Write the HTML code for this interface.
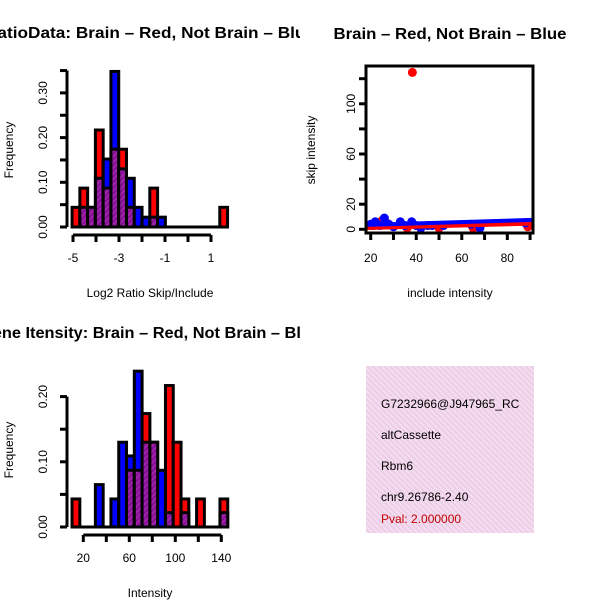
<!DOCTYPE html>
<html><head><meta charset="utf-8"><style>
body{margin:0;background:#fff}
svg{display:block;font-family:"Liberation Sans",sans-serif}
</style></head><body>
<svg id="c" width="600" height="600" viewBox="0 0 600 600">
<defs>
<pattern id="hatch" width="4" height="4" patternUnits="userSpaceOnUse" patternTransform="rotate(45)">
<rect width="4" height="4" fill="#a020a8"/><rect width="1.5" height="4" fill="#7a1090"/></pattern>
<pattern id="pinkh" width="4" height="4" patternUnits="userSpaceOnUse" patternTransform="rotate(-45)">
<rect width="4" height="4" fill="#f8d8f4"/><rect width="1.3" height="4" fill="#e0d0d8"/></pattern>
<clipPath id="panelL"><rect x="0" y="0" width="300" height="600"/></clipPath>
</defs>
<g id="g1"></g><g id="g2"></g><g id="g3"></g>
<g>
<rect x="366" y="366" width="168" height="167" fill="url(#pinkh)"/>
<svg x="366" y="366" width="168" height="167">
<text x="15" y="42" font-size="12">G7232966@J947965_RC</text>
<text x="15" y="73" font-size="12">altCassette</text>
<text x="15" y="104" font-size="12">Rbm6</text>
<text x="15" y="135" font-size="12">chr9.26786-2.40</text>
<text x="15" y="157" font-size="12" fill="#c00000">Pval: 2.000000</text>
</svg></g>
</svg>
<script>
const NS="http://www.w3.org/2000/svg";
// Histogram 1: log2 ratio
const h1Red=[0.044,0.087,0.044,0.217,0.087,0.174,0.174,0.044,0,0,0.087,0,0,0,0,0,0,0,0,0.044];
const h1Blue=[0,0.044,0.044,0.109,0.152,0.348,0.13,0.109,0.044,0.022,0.022,0.022,0,0,0,0,0,0,0,0];
const h1Ticks=[-5,-4,-3,-2,-1,0,1];
const h1Labels=[-5,-3,-1,1];
const h1YTicks=[0,0.05,0.10,0.15,0.20,0.25,0.30,0.35];
const h1YLabels=["0.00","0.10","0.20","0.30"];
// Histogram 2: intensity
const h2Red=[0.043,0,0,0,0,0,0,0.087,0.087,0.174,0.13,0,0.217,0.13,0.043,0,0.043,0,0,0.043];
const h2Blue=[0,0,0,0.065,0,0.043,0.13,0.109,0.239,0.13,0.13,0.087,0.022,0,0.022,0,0,0,0,0.022];
const h2Ticks=[20,40,60,80,100,120,140];
const h2Labels=[20,60,100,140];
const h2YTicks=[0,0.05,0.10,0.15,0.20];
const h2YLabels=["0.00","0.10","0.20"];
// Scatter
const redX=[21,25,27,36,38.3,42,50,65,89];
const redY=[3,7,5,1,125,1,1,1,2];
const blueX=[20,22,24,26,28,30,33,35,38,40,42,45,47,52,64,68,88];
const blueY=[4,6,3,9,4,2,6,3,6,3,1,3,3,3,4,1,5];
const redLine=[[18,1],[91,4.5]];
const blueLine=[[18,3.5],[91,7.5]];
const scXTicks=[20,30,40,50,60,70,80,90];
const scXLabels=[20,40,60,80];
const scYTicks=[0,20,40,60,80,100,120];
const scYLabels=[0,20,60,100];

function el(p,tag,a,txt){const e=document.createElementNS(NS,tag);for(const k in a)e.setAttribute(k,a[k]);if(txt!==undefined)e.textContent=txt;p.appendChild(e);return e;}

function hist(g,red,blue,bStart,bW,xs,ys,xt,xl,yt,yl,title,tLen,xlab,yTop){
  const top=ys(yt[yt.length-1]);
  const ax=el(g,"line",{x1:67,x2:67,y1:ys(yt[0]),y2:top,stroke:"#000","stroke-width":3});
  
  yt.forEach(v=>{el(g,"line",{x1:60,x2:67,y1:ys(v),y2:ys(v),stroke:"#000","stroke-width":3});});
  yl.forEach(s=>{const y=ys(parseFloat(s));const t=el(g,"text",{x:47,y:y,"font-size":12,"text-anchor":"middle",transform:`rotate(-90 47 ${y})`},s);});
  const bx=el(g,"line",{x1:xs(xt[0]),x2:xs(xt[xt.length-1]),y1:235,y2:235,stroke:"#000","stroke-width":3,transform:`translate(0 ${yTop})`});
  
  xt.forEach(v=>{el(g,"line",{x1:xs(v),x2:xs(v),y1:235,y2:242,stroke:"#000","stroke-width":3,transform:`translate(0 ${yTop})`});});
  xl.forEach(v=>{const t=el(g,"text",{x:xs(v),y:262+yTop,"font-size":12,"text-anchor":"middle"},String(v));});
  const y0=ys(0);
  el(g,"line",{x1:xs(bStart),x2:xs(bStart+bW*red.length),y1:y0,y2:y0,stroke:"#000","stroke-width":3});
  for(let i=0;i<red.length;i++){
    const x0=xs(bStart+i*bW),x1=xs(bStart+(i+1)*bW);
    const hi=Math.max(red[i],blue[i]),lo=Math.min(red[i],blue[i]);
    if(hi<=0)continue;
    const r=el(g,"rect",{x:x0,y:ys(hi),width:x1-x0,height:y0-ys(hi),fill:red[i]>=blue[i]?"#ff0000":"#0000ff",stroke:"#000","stroke-width":3});
    
    if(lo>0){const p=el(g,"rect",{x:x0,y:ys(lo),width:x1-x0,height:y0-ys(lo),fill:"url(#hatch)",stroke:"#000","stroke-width":3});
      }
  }
  const tt=el(g,"text",{x:150,y:38+yTop,"font-size":16,"font-weight":"bold","text-anchor":"middle",textLength:tLen,lengthAdjust:"spacingAndGlyphs","clip-path":"url(#panelL)"},title);
  
  const xl2=el(g,"text",{x:150,y:297+yTop,"font-size":12,"text-anchor":"middle"},xlab);
  
  const cy=150+yTop;
  const yl2=el(g,"text",{x:13,y:cy,"font-size":12,"text-anchor":"middle",transform:`rotate(-90 13 ${cy})`},"Frequency");
  
}
const g1=document.getElementById("g1");

hist(g1,h1Red,h1Blue,-5.04,0.338,v=>73+(v+5)*23,v=>227-v*447,h1Ticks,h1Labels,h1YTicks,h1YLabels,"RatioData: Brain \u2013 Red, Not Brain \u2013 Blue",330,"Log2 Ratio Skip/Include",0);
const g2=document.getElementById("g2");

hist(g2,h2Red,h2Blue,10.2,6.77,v=>83.3+(v-20)*1.15,v=>527-v*652,h2Ticks,h2Labels,h2YTicks,h2YLabels,"Gene Itensity: Brain \u2013 Red, Not Brain \u2013 Blue",340,"Intensity",300);

// Scatter
const g3=document.getElementById("g3");

const sx=v=>370.7+(v-20)*2.277, sy=v=>229.3-v*1.255;
const clip=el(g3,"clipPath",{id:"sc"});el(clip,"rect",{x:366,y:66,width:167,height:167});
const pg=el(g3,"g",{"clip-path":"url(#sc)"});
redX.forEach((x,i)=>{const c=el(pg,"circle",{cx:sx(x),cy:sy(redY[i]),r:4.5,fill:"#ff0000"});});
blueX.forEach((x,i)=>{const c=el(pg,"circle",{cx:sx(x),cy:sy(blueY[i]),r:4.5,fill:"#0000ff"});});
const rl=el(pg,"line",{x1:sx(redLine[0][0]),y1:sy(redLine[0][1]),x2:sx(redLine[1][0]),y2:sy(redLine[1][1]),stroke:"#ff0000","stroke-width":4});

const bl=el(pg,"line",{x1:sx(blueLine[0][0]),y1:sy(blueLine[0][1]),x2:sx(blueLine[1][0]),y2:sy(blueLine[1][1]),stroke:"#0000ff","stroke-width":4});

const box=el(g3,"rect",{x:366,y:66,width:167,height:167,fill:"none",stroke:"#000","stroke-width":3});

scXTicks.forEach(v=>el(g3,"line",{x1:sx(v),x2:sx(v),y1:233,y2:240,stroke:"#000","stroke-width":3}));
scXLabels.forEach(v=>{const t=el(g3,"text",{x:sx(v),y:262,"font-size":12,"text-anchor":"middle"},String(v));});
scYTicks.forEach(v=>el(g3,"line",{x1:359,x2:366,y1:sy(v),y2:sy(v),stroke:"#000","stroke-width":3}));
scYLabels.forEach(v=>{const y=sy(v);const t=el(g3,"text",{x:355,y:y,"font-size":12,"text-anchor":"middle",transform:`rotate(-90 355 ${y})`},String(v));});
const t3=el(g3,"text",{x:450,y:39,"font-size":16,"font-weight":"bold","text-anchor":"middle",textLength:233,lengthAdjust:"spacingAndGlyphs"},"Brain \u2013 Red, Not Brain \u2013 Blue");

const x3=el(g3,"text",{x:450,y:297,"font-size":12,"text-anchor":"middle"},"include intensity");

const y3=el(g3,"text",{x:315,y:150,"font-size":12,"text-anchor":"middle",transform:"rotate(-90 315 150)"},"skip intensity");

</script>
</body></html>
